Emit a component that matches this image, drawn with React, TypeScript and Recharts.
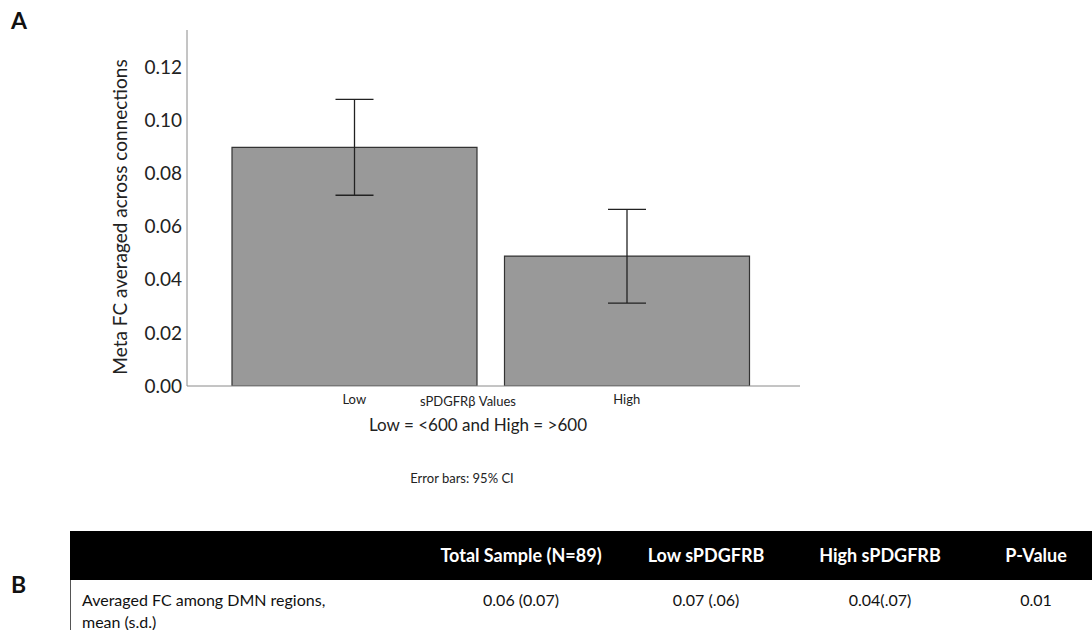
import { BarChart, Bar, XAxis, YAxis, ErrorBar, Label } from "recharts";

const groups = ["Low", "High"];
const means = [0.0898, 0.0489];
const ciLower = [0.0718, 0.0312];
const ciUpper = [0.1079, 0.0665];
const yTicks = [0, 0.02, 0.04, 0.06, 0.08, 0.1, 0.12];

const tableHeaders = ["Total Sample (N=89)", "Low sPDGFRB", "High sPDGFRB", "P-Value"];
const tableValues = ["0.06 (0.07)", "0.07 (.06)", "0.04(.07)", "0.01"];
const columnCenters = [521, 706, 880, 1036];

const data = groups.map((g, i) => ({
  group: g,
  mean: means[i],
  ci: [means[i] - ciLower[i], ciUpper[i] - means[i]],
}));

const FONT = "Lato, 'Open Sans', sans-serif";

export default function App() {
  return (
    <div
      style={{
        position: "absolute",
        left: 0,
        top: 0,
        width: 1092,
        height: 630,
        background: "#fff",
        fontFamily: FONT,
        color: "#111",
        overflow: "hidden",
      }}
    >
      <div style={{ position: "absolute", left: 11, top: 6, fontSize: 23, fontWeight: 700 }}>A</div>
      <div style={{ position: "absolute", left: 11, top: 570, fontSize: 23, fontWeight: 700 }}>B</div>

      <div style={{ position: "absolute", left: 0, top: 0 }}>
        <BarChart
          width={830}
          height={500}
          data={data}
          margin={{ top: 30, right: 30, left: 107, bottom: 84 }}
          barSize={245}
        >
          <YAxis
            width={80}
            domain={[0, 0.134]}
            ticks={yTicks}
            tickFormatter={(v: number) => v.toFixed(2)}
            tick={{ fontSize: 19, fill: "#222", fontFamily: FONT }}
            tickLine={false}
            tickSize={0}
            tickMargin={5}
            axisLine={{ stroke: "#8a8a8a", strokeWidth: 1 }}
            allowDataOverflow
          >
            <Label
              content={() => (
                <text
                  x={122}
                  y={217}
                  transform="rotate(-90 122 217)"
                  textAnchor="middle"
                  dominantBaseline="middle"
                  fontSize={19}
                  fill="#222"
                  fontFamily={FONT}
                >
                  Meta FC averaged across connections
                </text>
              )}
            />
          </YAxis>
          <XAxis
            dataKey="group"
            height={30}
            padding={{ left: 31, right: 37 }}
            tickLine={false}
            tickSize={0}
            tickMargin={9}
            tick={{ fontSize: 13, fill: "#222", fontFamily: FONT }}
            axisLine={{ stroke: "#8a8a8a", strokeWidth: 1 }}
          >
            <Label
              content={() => (
                <g fontFamily={FONT} fill="#222" textAnchor="middle">
                  <text x={468} y={406} fontSize={13}>
                    sPDGFRβ Values
                  </text>
                  <text x={478} y={431} fontSize={17}>
                    Low = &lt;600 and High = &gt;600
                  </text>
                  <text x={462} y={483} fontSize={13}>
                    Error bars: 95% CI
                  </text>
                </g>
              )}
            />
          </XAxis>
          <Bar
            dataKey="mean"
            fill="#999999"
            stroke="#333333"
            strokeWidth={1.2}
            isAnimationActive={false}
          >
            <ErrorBar
              dataKey="ci"
              width={19}
              stroke="#222"
              strokeWidth={1.3}
              isAnimationActive={false}
            />
          </Bar>
        </BarChart>
      </div>

      <div
        style={{
          position: "absolute",
          left: 70,
          top: 531,
          width: 1022,
          height: 49,
          background: "#000",
        }}
      />
      {tableHeaders.map((h, i) => (
        <div
          key={h}
          style={{
            position: "absolute",
            left: columnCenters[i] - 110,
            width: 220,
            top: 544,
            textAlign: "center",
            color: "#fff",
            fontWeight: 700,
            fontSize: 18,
            lineHeight: "22px",
          }}
        >
          {h}
        </div>
      ))}
      <div style={{ position: "absolute", left: 70, top: 580, width: 1, height: 50, background: "#555" }} />
      <div
        style={{
          position: "absolute",
          left: 82,
          top: 589,
          fontSize: 16,
          lineHeight: "22px",
        }}
      >
        Averaged FC among DMN regions,
        <br />
        mean (s.d.)
      </div>
      {tableValues.map((v, i) => (
        <div
          key={i}
          style={{
            position: "absolute",
            left: columnCenters[i] - 100,
            width: 200,
            top: 589,
            textAlign: "center",
            fontSize: 16,
            lineHeight: "22px",
          }}
        >
          {v}
        </div>
      ))}
    </div>
  );
}
